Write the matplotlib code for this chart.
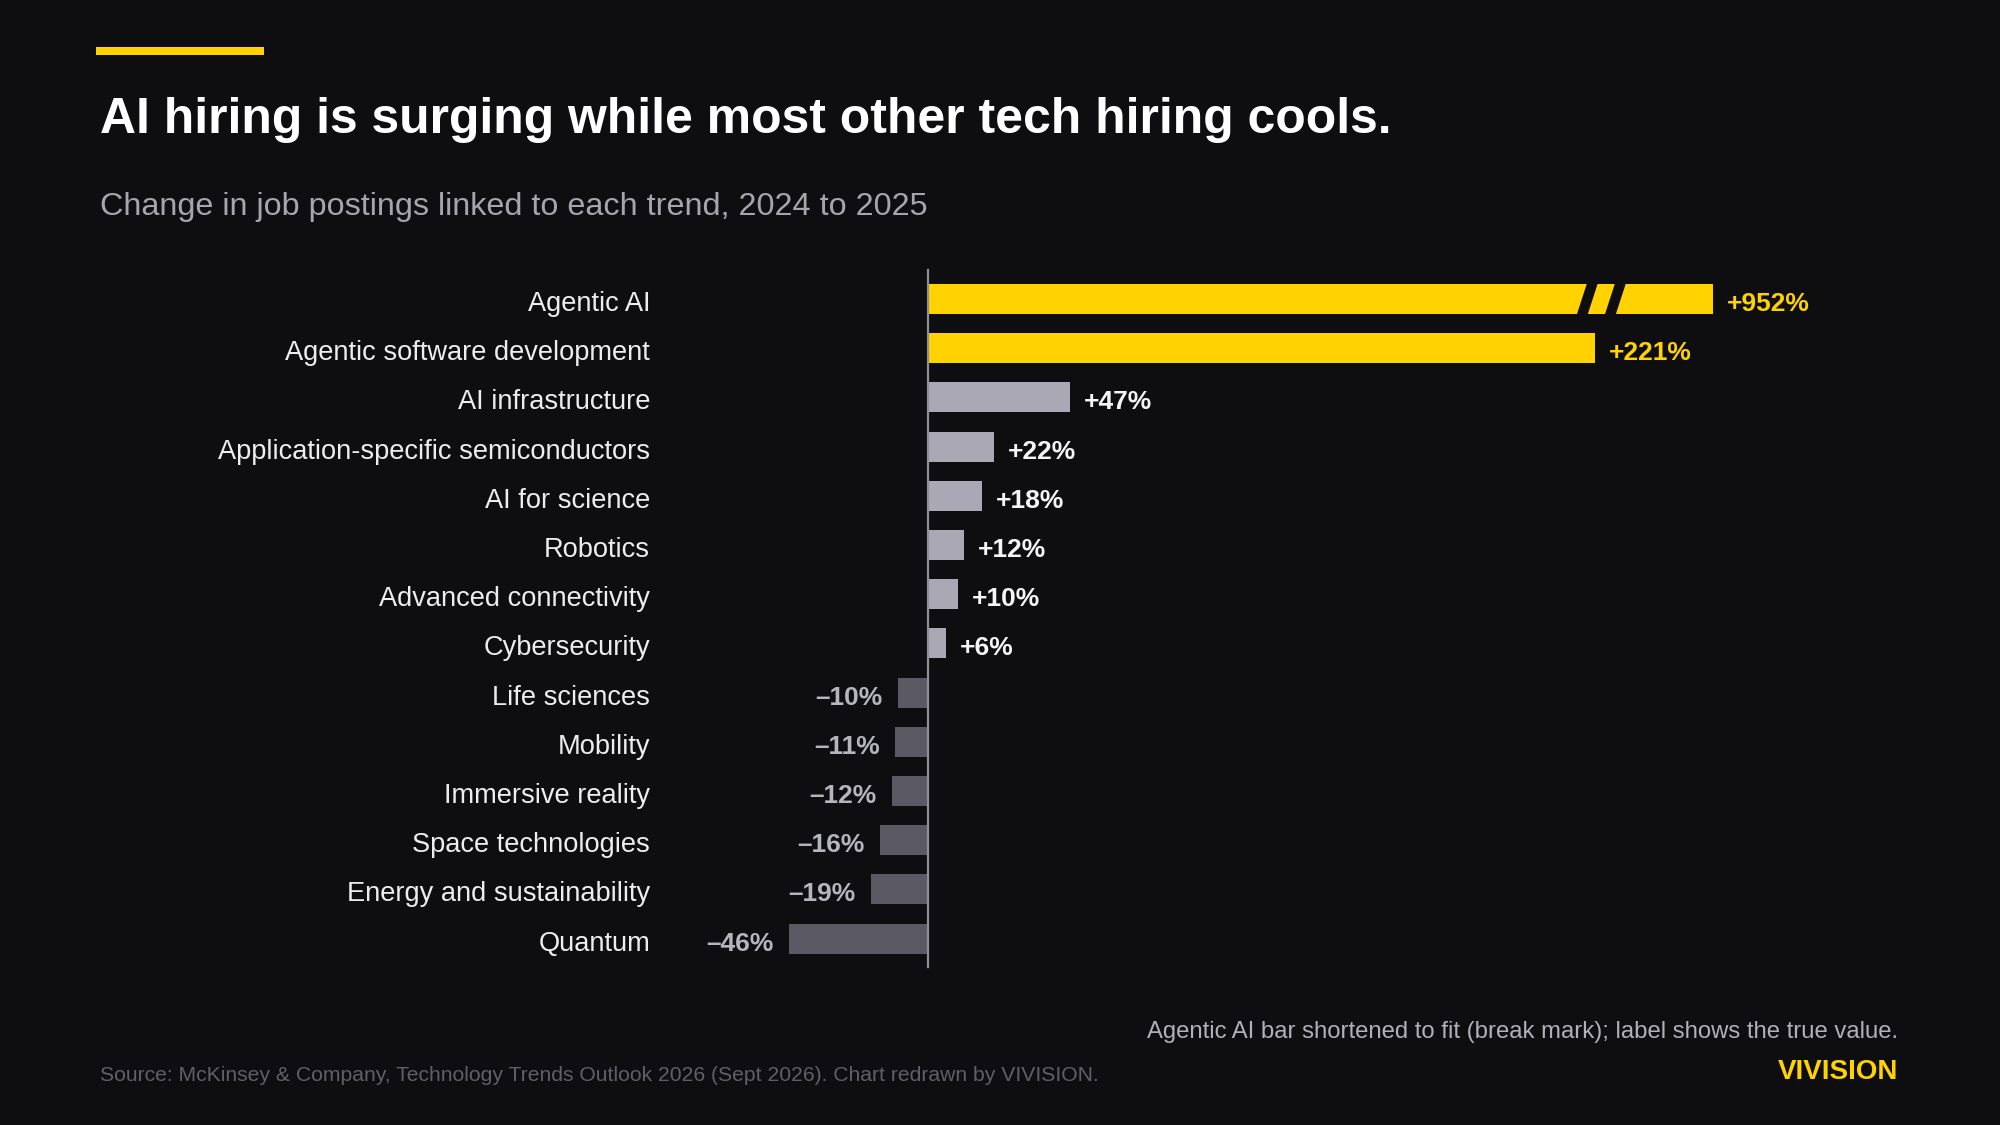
import matplotlib
matplotlib.use("Agg")
import matplotlib.pyplot as plt
from matplotlib.patches import Polygon, Rectangle
from matplotlib import transforms

plt.rcParams['font.family'] = ['Liberation Sans', 'DejaVu Sans']

# data
categories = [
    "Agentic AI", "Agentic software development", "AI infrastructure",
    "Application-specific semiconductors", "AI for science", "Robotics",
    "Advanced connectivity", "Cybersecurity", "Life sciences", "Mobility",
    "Immersive reality", "Space technologies", "Energy and sustainability",
    "Quantum",
]
values = [952, 221, 47, 22, 18, 12, 10, 6, -10, -11, -12, -16, -19, -46]
highlighted = ["Agentic AI", "Agentic software development"]
broken = "Agentic AI"

title = "AI hiring is surging while most other tech hiring cools."
subtitle = "Change in job postings linked to each trend, 2024 to 2025"
note = "Agentic AI bar shortened to fit (break mark); label shows the true value."
source = "Source: McKinsey & Company, Technology Trends Outlook 2026 (Sept 2026). Chart redrawn by VIVISION."
brand = "VIVISION"

# style
BG = "#0e0e11"
YELLOW = "#ffd200"
GREY_POS = "#a9a8b4"
GREY_NEG = "#5b5a64"
W, H = 2000, 1125
cap = 260          # drawn length of the broken bar
px_per_pct = 3.018
zero_px = 928
row0_px, row_px = 299, 49.2
text_drop = -3.6   # points, nudges labels onto the bar's optical centre

fig = plt.figure(figsize=(W / 100, H / 100), dpi=100, facecolor=BG)

ax_l, ax_r, ax_t, ax_b = 600, 1950, 260, 980
ax = fig.add_axes([ax_l / W, 1 - ax_b / H, (ax_r - ax_l) / W, (ax_b - ax_t) / H])
ax.set_facecolor(BG)
ax.set_xlim((ax_l - zero_px) / px_per_pct, (ax_r - zero_px) / px_per_pct)
ax.set_ylim((ax_b - row0_px) / row_px, (ax_t - row0_px) / row_px)
ax.axis("off")

ypos = list(range(len(categories)))
drawn = [min(v, cap) for v in values]
colors = []
for c, v in zip(categories, values):
    if c in highlighted:
        colors.append(YELLOW)
    elif v >= 0:
        colors.append(GREY_POS)
    else:
        colors.append(GREY_NEG)

ax.barh(ypos, drawn, height=0.61, color=colors, zorder=2)
ax.plot([0, 0], [-0.59, len(categories) - 1 + 0.57], color="#8e8e96", lw=1.6, zorder=3)

# break mark on the shortened bar
bi = categories.index(broken)
gw, sl = 3.6, 3.5
for g0 in (cap - 45.1, cap - 35.8):
    poly = Polygon([(g0, bi + 0.33), (g0 + gw, bi + 0.33),
                    (g0 + gw + sl, bi - 0.33), (g0 + sl, bi - 0.33)],
                   closed=True, facecolor=BG, edgecolor="none", zorder=4)
    ax.add_patch(poly)

# category labels
lab_tr = transforms.blended_transform_factory(fig.transFigure, ax.transData)
for y, c in zip(ypos, categories):
    ax.annotate(c, (650 / W, y), xycoords=lab_tr, xytext=(0, text_drop),
                textcoords="offset points", ha="right", va="center",
                fontsize=19.6, color="#ededf0")

# value labels
for y, v, d, c in zip(ypos, values, drawn, categories):
    if v >= 0:
        txt = "+%d%%" % v
        col = YELLOW if c in highlighted else "#f5f5f7"
        ax.annotate(txt, (d, y), xytext=(10, text_drop), textcoords="offset points",
                    ha="left", va="center", fontsize=19, fontweight="bold", color=col)
    else:
        txt = "\u2013%d%%" % abs(v)
        ax.annotate(txt, (d, y), xytext=(-11, text_drop), textcoords="offset points",
                    ha="right", va="center", fontsize=19, fontweight="bold", color="#b5b5bd")

# header
fig.patches.append(Rectangle((96 / W, 1 - 55 / H), 168 / W, 8 / H,
                             transform=fig.transFigure, facecolor=YELLOW, edgecolor="none"))
fig.text(100 / W, 1 - 133 / H, title, ha="left", va="baseline",
         fontsize=35.9, fontweight="bold", color="#ffffff")
fig.text(100 / W, 1 - 215 / H, subtitle, ha="left", va="baseline",
         fontsize=23.3, color="#a5a5ae")

# footer
fig.text(1898 / W, 1 - 1038 / H, note, ha="right", va="baseline",
         fontsize=17.2, color="#b0b0b8")
fig.text(1898 / W, 1 - 1079 / H, brand, ha="right", va="baseline",
         fontsize=20, fontweight="bold", color=YELLOW)
fig.text(100 / W, 1 - 1081 / H, source, ha="left", va="baseline",
         fontsize=15.2, color="#5f5f68")

fig.savefig("out.png", dpi=100, facecolor=BG)
